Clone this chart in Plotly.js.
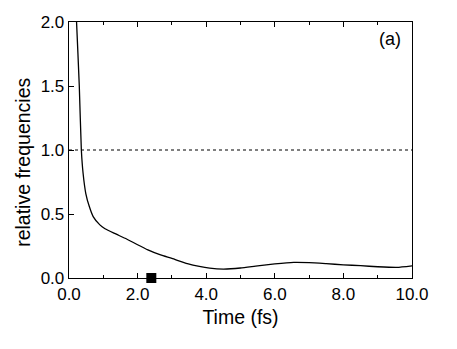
<!DOCTYPE html>
<html>
<head>
<meta charset="utf-8">
<script src="https://cdn.plot.ly/plotly-3.0.1.min.js"></script>
<style>
  html, body { margin: 0; padding: 0; background: #fff; }
  #chart { width: 457px; height: 349px; }
</style>
</head>
<body>
<div id="chart"></div>
<script>
// relative frequency vs time
var timeFs = [0.2, 0.22, 0.30, 0.36, 0.41, 0.49, 0.59, 0.705, 0.90, 1.05, 1.31, 1.68, 2.0, 2.3, 2.67, 3.0, 3.45, 3.8, 4.1, 4.5, 5.0, 5.5, 6.0, 6.55, 7.0, 7.5, 8.0, 8.5, 9.0, 9.56, 10.0];
var relFreq = [2.12, 2.0, 1.5, 1.0, 0.82, 0.66, 0.56, 0.48, 0.415, 0.385, 0.35, 0.305, 0.26, 0.22, 0.18, 0.153, 0.112, 0.09, 0.077, 0.07, 0.078, 0.095, 0.11, 0.122, 0.12, 0.112, 0.103, 0.096, 0.088, 0.083, 0.095];

var refLevel = 1.0;
var markTime = [2.4];
var markVal = [0];

var xTicks = [0, 2, 4, 6, 8, 10];
var xTickText = ["0.0", "2.0", "4.0", "6.0", "8.0", "10.0"];
var yTicks = [0, 0.5, 1.0, 1.5, 2.0];
var yTickText = ["0.0", "0.5", "1.0", "1.5", "2.0"];

var font = "Liberation Sans, Arial, sans-serif";

var data = [
  {
    x: timeFs, y: relFreq,
    mode: "lines",
    line: { color: "#000", width: 1.3, shape: "spline", smoothing: 0.5 },
    hoverinfo: "none"
  },
  {
    x: [0, 10], y: [refLevel, refLevel],
    mode: "lines",
    line: { color: "#000", width: 1.2, dash: "dot" },
    hoverinfo: "none"
  },
  {
    x: markTime, y: markVal,
    mode: "markers",
    marker: { symbol: "square", size: 10, color: "#000" },
    cliponaxis: false,
    hoverinfo: "none"
  }
];

var layout = {
  width: 457, height: 349,
  margin: { l: 68.5, r: 45.3, t: 21.7, b: 70.7 },
  paper_bgcolor: "#fff", plot_bgcolor: "#fff",
  showlegend: false,
  font: { family: font, color: "#000", size: 17 },
  xaxis: {
    range: [0, 10],
    tickvals: xTicks, ticktext: xTickText,
    ticks: "inside", ticklen: 5, tickwidth: 1, tickcolor: "#000",
    minor: { dtick: 1, ticks: "inside", ticklen: 3, tickcolor: "#000" },
    showline: true, linecolor: "#000", linewidth: 1.3, mirror: "ticks",
    showgrid: false, zeroline: false,
    tickfont: { size: 17 },
    title: { text: "Time (fs)", font: { size: 19.5 }, standoff: 7 }
  },
  yaxis: {
    range: [0, 2],
    tickvals: yTicks, ticktext: yTickText,
    ticks: "inside", ticklen: 5, tickwidth: 1, tickcolor: "#000",
    showline: true, linecolor: "#000", linewidth: 1.3, mirror: true,
    showgrid: false, zeroline: false,
    tickfont: { size: 17 }
  },
  annotations: [
    {
      text: "relative frequencies", textangle: -90,
      xref: "paper", yref: "paper", x: -0.134, y: 0.45,
      xanchor: "center", yanchor: "middle",
      showarrow: false, font: { size: 19.5 }
    },
    {
      text: "(a)",
      xref: "paper", yref: "paper", x: 0.974, y: 0.935,
      xanchor: "right", yanchor: "middle",
      showarrow: false, font: { size: 18 }
    }
  ]
};

Plotly.newPlot("chart", data, layout, { displayModeBar: false, staticPlot: true });
</script>
</body>
</html>
